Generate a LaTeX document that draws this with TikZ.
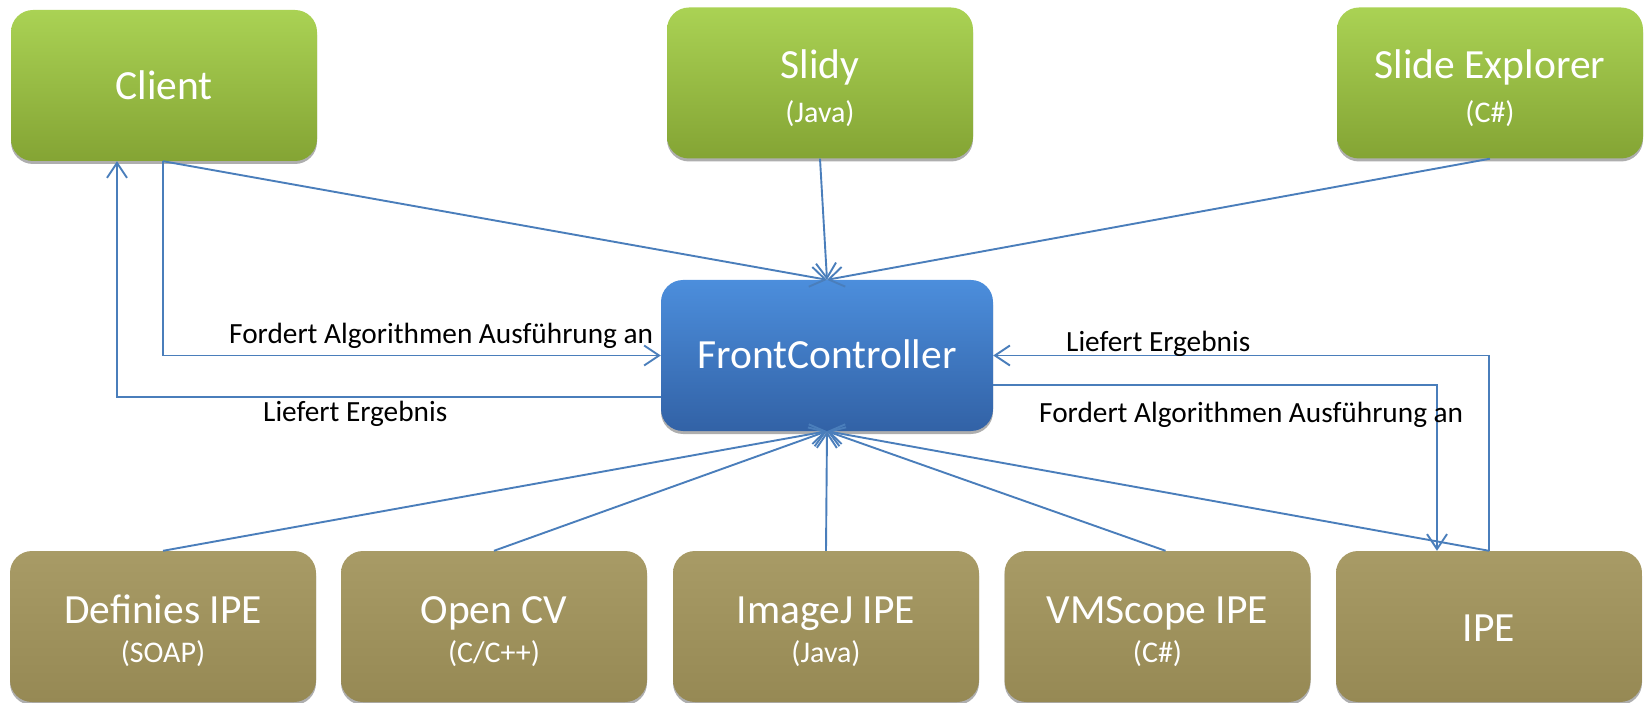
\documentclass[tikz,border=0pt]{standalone}
\usepackage{fontspec}
\setmainfont{Carlito}
\usetikzlibrary{arrows.meta,shadows,calc}
\definecolor{grtop}{RGB}{170,210,84}
\definecolor{grbot}{RGB}{132,164,52}
\definecolor{bltop}{RGB}{76,142,220}
\definecolor{blbot}{RGB}{50,98,166}
\definecolor{oltop}{RGB}{168,155,102}
\definecolor{olbot}{RGB}{150,137,84}
\definecolor{ln}{RGB}{74,126,187}
\tikzset{
  box/.style={rounded corners=22pt, minimum width=306pt, minimum height=151pt, inner sep=0pt,
    draw=none, drop shadow={shadow xshift=0pt, shadow yshift=-3pt, opacity=.45, fill=black!70}},
  greenbox/.style={box, top color=grtop, bottom color=grbot},
  bluebox/.style={box, top color=bltop, bottom color=blbot, minimum width=332pt},
  olivebox/.style={box, top color=oltop, bottom color=olbot},
  maintxt/.style={anchor=base, text=white, font=\fontsize{41.5}{48}\selectfont, inner sep=0pt},
  subtxt/.style={anchor=base, text=white, font=\fontsize{30}{36}\selectfont, inner sep=0pt},
  lbl/.style={anchor=base west, text=black, font=\fontsize{29.3}{34}\selectfont, inner sep=0pt},
  conn/.style={draw=ln, line width=1.9pt},
  arr/.style={conn, -{Straight Barb[length=15pt,width=20pt,line width=1.9pt]}},
}
\begin{document}
\begin{tikzpicture}[x=1pt,y=-1pt]
\useasboundingbox (0,0) rectangle (1650,703);
% boxes
\node[greenbox] (cl) at (164,85.5) {};
\node[greenbox] (sl) at (820,83) {};
\node[greenbox] (se) at (1490,83) {};
\node[bluebox] (fc) at (827,355.5) {};
\node[olivebox] (de) at (163,626.5) {};
\node[olivebox] (oc) at (494,626.5) {};
\node[olivebox] (ij) at (826,626.5) {};
\node[olivebox] (vm) at (1157.5,626.5) {};
\node[olivebox] (ip) at (1489,626.5) {};
% texts
\node[maintxt] (clt) at (164,100) {Client};
\node[maintxt] (slt) at (820,79) {Slidy};
\node[subtxt] (sls) at (820,123) {(Java)};
\node[maintxt] (set) at (1490,79) {Slide Explorer};
\node[subtxt] (ses) at (1490,123) {(C\#)};
\node[maintxt] (fct) at (827,369) {FrontController};
\node[maintxt] (det) at (163,623) {Definies IPE};
\node[subtxt] (des) at (163,662) {(SOAP)};
\node[maintxt] (oct) at (494,623) {Open CV};
\node[subtxt] (ocs) at (494,662) {(C/C++)};
\node[maintxt] (ijt) at (826,623) {ImageJ IPE};
\node[subtxt] (ijs) at (826,662) {(Java)};
\node[maintxt] (vmt) at (1157.5,623) {VMScope IPE};
\node[subtxt] (vms) at (1157.5,662) {(C\#)};
\node[maintxt] (ipt) at (1489,641) {IPE};
% connectors top
\draw[arr] ([xshift=-1pt]cl.south) -- (fc.north);
\draw[arr] (sl.south) -- (fc.north);
\draw[arr] (se.south) -- (fc.north);
% client loop
\draw[arr] ([xshift=-1pt]cl.south) |- (fc.west);
\draw[arr] ([yshift=-41.5pt]fc.west) -| ([xshift=-47pt]cl.south);
% IPE loop
\draw[arr] ([yshift=-29.5pt]fc.east) -| ([xshift=-52pt]ip.north);
\draw[arr] (ip.north) |- (fc.east);
% bottom
\draw[arr] (de.north) -- (fc.south);
\draw[arr] (oc.north) -- (fc.south);
\draw[arr] (ij.north) -- (fc.south);
\draw[arr] ([xshift=8pt]vm.north) -- (fc.south);
\draw[arr] (ip.north) -- (fc.south);
% labels
\node[lbl] (l1) at (229,344) {Fordert Algorithmen Ausführung an};
\node[lbl] (l2) at (263,421) {Liefert Ergebnis};
\node[lbl] (l3) at (1066,352) {Liefert Ergebnis};
\node[lbl] (l4) at (1039,422) {Fordert Algorithmen Ausführung an};
\end{tikzpicture}
\end{document}
